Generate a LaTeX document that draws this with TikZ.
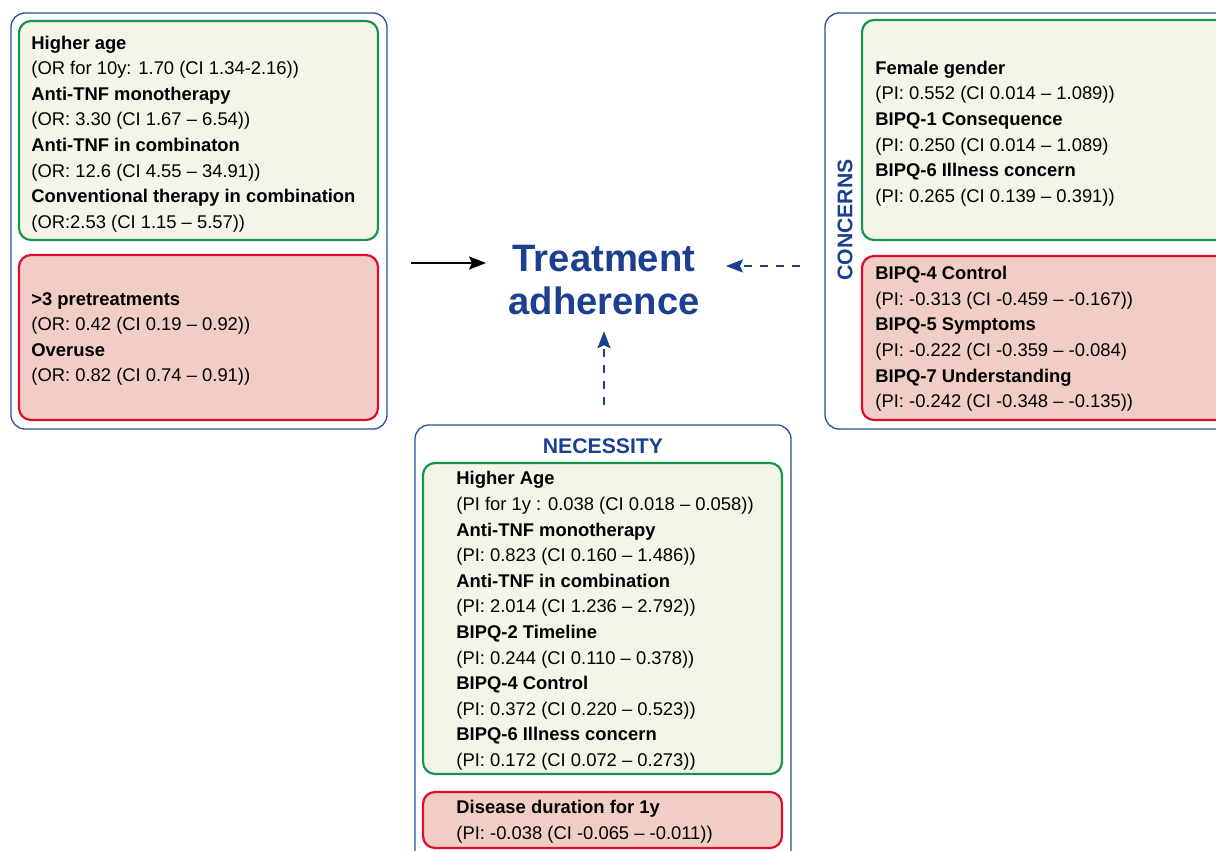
\documentclass[tikz,border=0pt]{standalone}
\usepackage{fontspec}
\setmainfont{Liberation Sans}
\usetikzlibrary{arrows.meta}
\definecolor{adblue}{RGB}{27,63,145}
\definecolor{frameblue}{RGB}{43,76,155}
\definecolor{posgreen}{RGB}{20,150,75}
\definecolor{posfill}{RGB}{244,245,232}
\definecolor{negred}{RGB}{226,10,45}
\definecolor{negfill}{RGB}{240,206,197}
\tikzstyle{outerbox}=[draw=frameblue,line width=0.65pt,rounded corners=7pt]
\tikzstyle{posbox}=[draw=posgreen,fill=posfill,line width=1.1pt,rounded corners=6pt]
\tikzstyle{negbox}=[draw=negred,fill=negfill,line width=1.1pt,rounded corners=6pt]
\tikzstyle{factors}=[anchor=west,align=left,inner sep=0pt,font=\fontsize{9.2}{12.8}\selectfont]
\tikzstyle{heading}=[text=adblue,inner sep=0pt,font=\fontsize{10.6}{12}\selectfont\bfseries]
\tikzstyle{solidflow}=[line width=1pt,-{Stealth[length=8.5pt,width=6.5pt,inset=1.5pt]}]
\tikzstyle{dashflow}=[adblue,line width=1pt,dash pattern=on 4pt off 4pt,-{Stealth[length=8.5pt,width=6.5pt,inset=1.5pt]}]

\begin{document}
\begin{tikzpicture}[x=0.5pt,y=-0.5pt]
\useasboundingbox (0,0) rectangle (1216,851);
% group frames
\draw[outerbox] (11,13) rectangle (387,429);
\draw[outerbox] (825,13) rectangle (1240,429);
\draw[outerbox] (415,425) rectangle (791,880);
\draw[posbox] (19,21) rectangle (378,240);
\draw[negbox] (19,255) rectangle (378,420);
\draw[posbox] (862,20) rectangle (1232,240);
\draw[negbox] (862,256) rectangle (1232,420);
\draw[posbox] (423,463) rectangle (782,774);
\draw[negbox] (423,792) rectangle (782,848);
% headings
\node[heading] (concerns) at (845,220) [rotate=90] {CONCERNS};
\node[heading] (necessity) at (603,446) {NECESSITY};
\node[text=adblue,align=center,inner sep=0pt,font=\fontsize{19.1}{21.5}\selectfont\bfseries] (adh) at (604,280) {Treatment\\adherence};
% factor lists
\node[factors] (leftpos) at (31,134) {\textbf{Higher age}\\(OR for 10y: 1.70 (CI 1.34-2.16))\\\textbf{Anti-TNF monotherapy}\\(OR: 3.30 (CI 1.67 – 6.54))\\\textbf{Anti-TNF in combinaton}\\(OR: 12.6 (CI 4.55 – 34.91))\\\textbf{Conventional therapy in combination}\\(OR:2.53 (CI 1.15 – 5.57))};
\node[factors] (leftneg) at (31,339) {\textbf{>3 pretreatments}\\(OR: 0.42 (CI 0.19 – 0.92))\\\textbf{Overuse}\\(OR: 0.82 (CI 0.74 – 0.91))};
\node[factors] (concpos) at (875,133.5) {\textbf{Female gender}\\(PI: 0.552 (CI 0.014 – 1.089))\\\textbf{BIPQ-1 Consequence}\\(PI: 0.250 (CI 0.014 – 1.089)\\\textbf{BIPQ-6 Illness concern}\\(PI: 0.265 (CI 0.139 – 0.391))};
\node[factors] (concneg) at (875,339) {\textbf{BIPQ-4 Control}\\(PI: -0.313 (CI -0.459 – -0.167))\\\textbf{BIPQ-5 Symptoms}\\(PI: -0.222 (CI -0.359 – -0.084)\\\textbf{BIPQ-7 Understanding}\\(PI: -0.242 (CI -0.348 – -0.135))};
\node[factors] (necpos) at (456,621) {\textbf{Higher Age}\\(PI for 1y : 0.038 (CI 0.018 – 0.058))\\\textbf{Anti-TNF monotherapy}\\(PI: 0.823 (CI 0.160 – 1.486))\\\textbf{Anti-TNF in combination}\\(PI: 2.014 (CI 1.236 – 2.792))\\\textbf{BIPQ-2 Timeline}\\(PI: 0.244 (CI 0.110 – 0.378))\\\textbf{BIPQ-4 Control}\\(PI: 0.372 (CI 0.220 – 0.523))\\\textbf{BIPQ-6 Illness concern}\\(PI: 0.172 (CI 0.072 – 0.273))};
\node[factors] (necneg) at (456,822) {\textbf{Disease duration for 1y}\\(PI: -0.038 (CI -0.065 – -0.011))};
% arrows into adherence
\coordinate (tailL) at (411,263);
\coordinate (tailR) at (800,266);
\coordinate (tailN) at (604,405);
\draw[solidflow,shorten >=11pt] (tailL) -- (tailL -| adh.west);
\draw[dashflow,shorten >=13pt] (tailR) -- (tailR -| adh.east);
\draw[dashflow,shorten >=8pt] (tailN) -- (adh.south);
\end{tikzpicture}
\end{document}
